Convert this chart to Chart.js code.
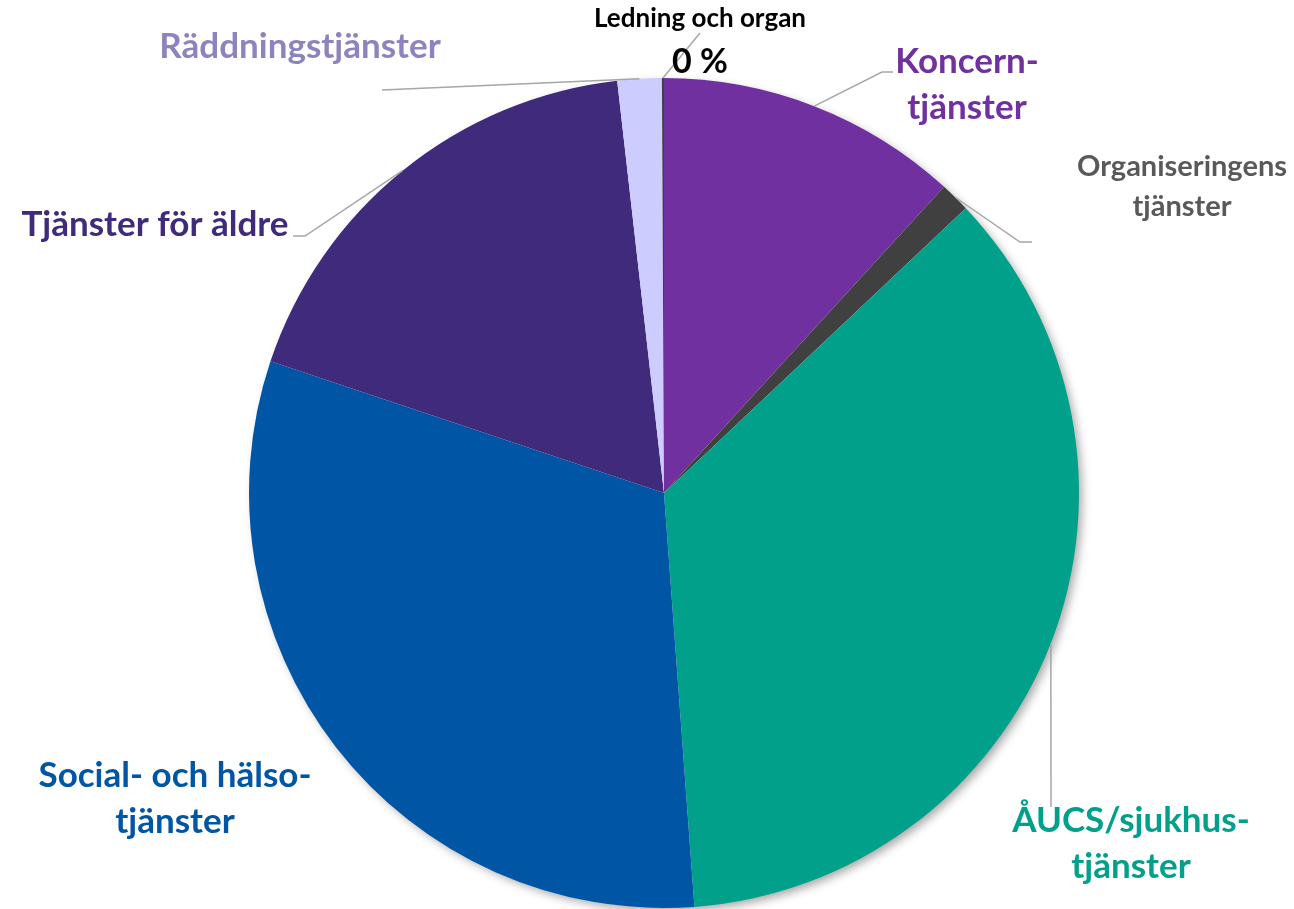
<!DOCTYPE html>
<html>
<head>
<meta charset="utf-8">
<script src="https://cdn.jsdelivr.net/npm/chart.js@4/dist/chart.umd.min.js"></script>
<style>
  html, body { margin: 0; padding: 0; background: #ffffff; }
  #wrap { position: relative; width: 1294px; height: 909px; }
</style>
</head>
<body>
<div id="wrap"><canvas id="c" width="1294" height="909"></canvas></div>
<script>
// ---- data ----
const categories = [
  "Koncerntjänster",
  "Organiseringens tjänster",
  "ÅUCS/sjukhustjänster",
  "Social- och hälsotjänster",
  "Tjänster för äldre",
  "Räddningstjänster",
  "Ledning och organ"
];
const values = [11.79, 1.17, 35.87, 31.31, 18.06, 1.72, 0.08];
const labelLines = [
  ["Koncern-", "tjänster"],
  ["Organiseringens", "tjänster"],
  ["ÅUCS/sjukhus-", "tjänster"],
  ["Social- och hälso-", "tjänster"],
  ["Tjänster för äldre"],
  ["Räddningstjänster"],
  ["Ledning och organ", "0 %"]
];

// ---- styles ----
const sliceColors = ["#7030A0", "#404040", "#00A08A", "#0055A4", "#3F2A7B", "#CCCCFF", "#404040"];
const textColors  = ["#7030A0", "#595959", "#00A08A", "#0055A4", "#3F2A7B", "#8C84BE", "#000000"];
const FONT = "Lato, 'Open Sans', sans-serif";
// label layout: x (center), baselines, font sizes, leader polyline points after arc midpoint
const labelLayout = [
  { x: 967,  y: [73, 119],  size: [35, 35], leader: [[882, 72], [893, 72]] },
  { x: 1182, y: [176, 216], size: [29, 29], leader: [[1020, 242], [1032, 242]] },
  { x: 1131, y: [832, 878], size: [35, 35], leader: [[1051, 807]] },
  { x: 175,  y: [787, 833], size: [35, 35], leader: null },
  { x: 155,  y: [236],      size: [35],     leader: [[305, 236], [293, 236]] },
  { x: 300,  y: [58],       size: [35],     leader: [[382, 90]] },
  { x: 700,  y: [27, 73],   size: [26, 34], leader: [[700, 33]] }
];

const shadowPlugin = {
  id: 'pieShadow',
  beforeDatasetsDraw(chart) {
    const arc = chart.getDatasetMeta(0).data[0];
    if (!arc) return;
    const ctx = chart.ctx;
    ctx.save();
    ctx.shadowColor = 'rgba(0,0,0,0.35)';
    ctx.shadowBlur = 10;
    ctx.shadowOffsetX = 4;
    ctx.shadowOffsetY = 4;
    ctx.fillStyle = '#ffffff';
    ctx.beginPath();
    ctx.arc(arc.x, arc.y, arc.outerRadius - 1, 0, Math.PI * 2);
    ctx.fill();
    ctx.restore();
  }
};

const labelPlugin = {
  id: 'outLabels',
  afterDatasetsDraw(chart) {
    const ctx = chart.ctx;
    const meta = chart.getDatasetMeta(0);
    meta.data.forEach((arc, i) => {
      const lay = labelLayout[i];
      const mid = (arc.startAngle + arc.endAngle) / 2;
      const sx = arc.x + Math.cos(mid) * arc.outerRadius;
      const sy = arc.y + Math.sin(mid) * arc.outerRadius;
      if (lay.leader) {
        ctx.save();
        ctx.strokeStyle = '#A6A6A6';
        ctx.lineWidth = 1.5;
        ctx.beginPath();
        ctx.moveTo(sx, sy);
        lay.leader.forEach(p => ctx.lineTo(p[0], p[1]));
        ctx.stroke();
        ctx.restore();
      }
      ctx.save();
      ctx.fillStyle = textColors[i];
      ctx.textAlign = 'center';
      ctx.textBaseline = 'alphabetic';
      labelLines[i].forEach((line, k) => {
        ctx.font = `bold ${lay.size[k]}px ${FONT}`;
        ctx.fillText(line, lay.x, lay.y[k]);
      });
      ctx.restore();
    });
  }
};

new Chart(document.getElementById('c'), {
  type: 'pie',
  data: {
    labels: categories,
    datasets: [{
      data: values,
      backgroundColor: sliceColors,
      borderWidth: 0
    }]
  },
  options: {
    responsive: false,
    animation: false,
    rotation: 0,
    layout: { padding: { left: 249, right: 215, top: 78, bottom: 1 } },
    plugins: { legend: { display: false }, tooltip: { enabled: false } }
  },
  plugins: [shadowPlugin, labelPlugin]
});
</script>
</body>
</html>
